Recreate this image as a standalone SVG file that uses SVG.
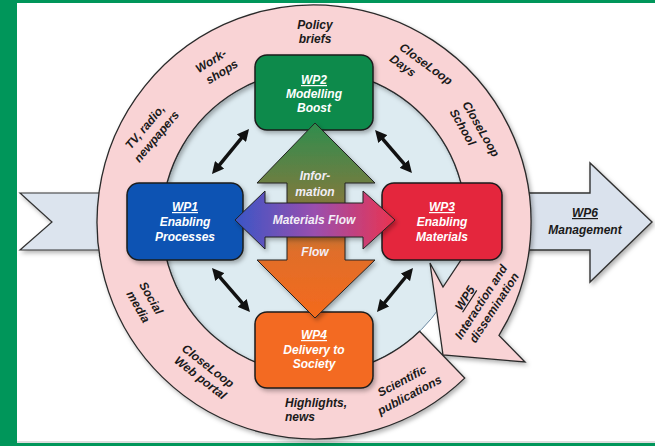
<svg xmlns="http://www.w3.org/2000/svg" width="655" height="446" viewBox="0 0 655 446">
<style>
text{font-family:"Liberation Sans",Arial,sans-serif;font-weight:bold;font-style:italic;font-size:12px}
.rt{fill:#1a1a1a;text-anchor:middle}
.bt{fill:#ffffff;text-anchor:middle}
.ft{fill:#f3eef6;text-anchor:middle}
.u{text-decoration:underline}
.box{stroke:#1c1c1c;stroke-width:1.5}
.dbl{stroke:#111;stroke-width:3.5;fill:none;marker-start:url(#ah);marker-end:url(#ah)}
</style>
<defs>
<filter id="sh" x="-10%" y="-10%" width="130%" height="130%">
<feDropShadow dx="2" dy="2.5" stdDeviation="2" flood-color="#000" flood-opacity="0.3"/>
</filter>
<marker id="ah" viewBox="0 0 12 12" refX="3" refY="6" markerWidth="12" markerHeight="12" markerUnits="userSpaceOnUse" orient="auto-start-reverse">
<path d="M0,0 L12,6 L0,12 z" fill="#111"/>
</marker>
<linearGradient id="gv" x1="0" y1="123" x2="0" y2="318" gradientUnits="userSpaceOnUse">
<stop offset="0" stop-color="#2f8d4e"/>
<stop offset="0.4" stop-color="#7f7a3e"/>
<stop offset="0.66" stop-color="#e06e2a"/>
<stop offset="1" stop-color="#f46a1c"/>
</linearGradient>
<linearGradient id="gh" x1="235" y1="0" x2="395" y2="0" gradientUnits="userSpaceOnUse">
<stop offset="0" stop-color="#3a55c6"/>
<stop offset="0.5" stop-color="#9a4fae"/>
<stop offset="1" stop-color="#ea3350"/>
</linearGradient>
</defs>
<rect x="0" y="0" width="655" height="446" fill="#ffffff"/>
<rect x="0" y="0" width="17" height="446" fill="#00965a"/>
<rect x="0" y="0" width="655" height="3" fill="#00965a"/>
<rect x="0" y="443" width="655" height="3" fill="#00965a"/>
<line x1="17" y1="442" x2="655" y2="442" stroke="#bbbbbb" stroke-width="1"/>

<g id="input">
<path d="M20,193 L130,193 L130,250 L20,250 L52,222 Z" fill="#dce4ee" stroke="#333" stroke-width="1.2" filter="url(#sh)"/>
</g>
<g id="wp6">
<path d="M500,193 L590,193 L590,163 L652,222 L590,282 L590,250 L500,250 Z" fill="#dae2ed" stroke="#333" stroke-width="1.4" filter="url(#sh)"/>
<text class="rt u" x="585" y="217">WP6</text>
<text class="rt" x="585" y="234">Management</text>
</g>

<g id="core">
<circle cx="314" cy="222" r="152" fill="#ddebf1" stroke="#5a7a95" stroke-width="0.9"/>
</g>

<g id="wp5">
<path d="M419.6,331.3 L464.7,378.1 A217,217 0 1 1 499,335.4 L525,362 L443,355 L430,263 L443,287 L461.3,259.5 A152,152 0 1 0 419.6,331.3 Z" fill="#f9d3d5" stroke="#2a2a2a" stroke-width="1.3" filter="url(#sh)"/>
<text class="rt" x="315" y="29">Policy</text>
<text class="rt" x="315" y="43">briefs</text>
<g transform="translate(211,61) rotate(-32)"><text class="rt" x="0" y="4">Work-</text><text class="rt" x="3.5" y="19">shops</text></g>
<g transform="translate(145,127) rotate(-50)"><text class="rt" x="0" y="4">TV, radio,</text><text class="rt" x="0" y="19">newpapers</text></g>
<g transform="translate(426,64) rotate(36)"><text class="rt" x="0" y="4">CloseLoop</text><text class="rt" x="-17.8" y="19">Days</text></g>
<g transform="translate(481,129) rotate(60)"><text class="rt" x="0" y="4">CloseLoop</text><text class="rt" x="-10.7" y="19">School</text></g>
<g transform="translate(151,298) rotate(60)"><text class="rt" x="0" y="4">Social</text><text class="rt" x="1.3" y="19.5">media</text></g>
<g transform="translate(208,366) rotate(38)"><text class="rt" x="0" y="4">CloseLoop</text><text class="rt" x="1.3" y="18">Web portal</text></g>
<text x="285" y="407" fill="#1a1a1a">Highlights,</text>
<text x="285" y="421" fill="#1a1a1a">news</text>
<g transform="translate(402,381) rotate(-28)"><text class="rt" x="0" y="4">Scientific</text><text class="rt" x="0" y="20">publications</text></g>
<g transform="translate(481,302) rotate(-57)"><text class="rt u" x="-5.6" y="-11.5">WP5</text><text class="rt" x="0" y="4">Interaction and</text><text class="rt" x="2.3" y="18.2">dissemination</text></g>
</g>

<g id="wp2">
<rect class="box" x="255" y="55" width="118" height="75" rx="12" fill="#0f8a4c" filter="url(#sh)"/>
<text class="bt u" x="314" y="84">WP2</text>
<text class="bt" x="314" y="98">Modelling</text>
<text class="bt" x="314" y="112">Boost</text>
</g>
<g id="wp1">
<rect class="box" x="127" y="183" width="116" height="77" rx="12" fill="#0d52b3" filter="url(#sh)"/>
<text class="bt u" x="185" y="211">WP1</text>
<text class="bt" x="185" y="226">Enabling</text>
<text class="bt" x="185" y="241">Processes</text>
</g>
<g id="wp3">
<rect class="box" x="382" y="183" width="120" height="77" rx="12" fill="#e4253d" filter="url(#sh)"/>
<text class="bt u" x="442" y="211">WP3</text>
<text class="bt" x="442" y="226">Enabling</text>
<text class="bt" x="442" y="241">Materials</text>
</g>
<g id="wp4">
<rect class="box" x="255" y="312" width="118" height="76" rx="12" fill="#f36b21" filter="url(#sh)"/>
<text class="bt u" x="314" y="339">WP4</text>
<text class="bt" x="314" y="354">Delivery to</text>
<text class="bt" x="314" y="368">Society</text>
</g>

<g id="connectors">
<g id="information-flow">
<path d="M315,123 L375,183 L345,183 L345,260 L375,260 L315,318 L257,260 L287,260 L287,183 L257,183 Z" fill="url(#gv)" stroke="#222" stroke-width="1" filter="url(#sh)"/>
<text class="ft" x="315" y="180">Infor-</text>
<text class="ft" x="315" y="196">mation</text>
<text class="ft" x="315" y="256">Flow</text>
</g>
<g id="materials-flow">
<path d="M235,220 L265,191 L265,203 L363,203 L363,191 L395,220 L363,249 L363,237 L265,237 L265,249 Z" fill="url(#gh)" stroke="#222" stroke-width="1" filter="url(#sh)"/>
<text class="ft" x="314" y="224">Materials Flow</text>
</g>
<line class="dbl" x1="217.7" y1="167.1" x2="243.3" y2="135.9"/>
<line class="dbl" x1="380.9" y1="136.8" x2="406.1" y2="166.2"/>
<line class="dbl" x1="217.9" y1="274.8" x2="244.1" y2="305.2"/>
<line class="dbl" x1="407.3" y1="275" x2="382.7" y2="305"/>
</g>
</svg>
